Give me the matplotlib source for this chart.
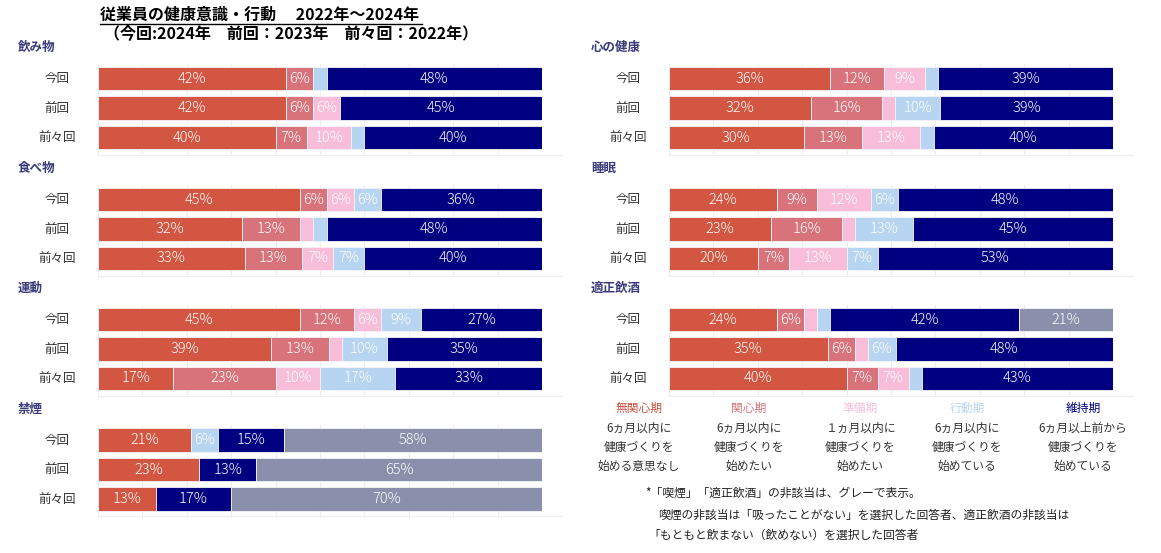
import matplotlib.pyplot as plt
from matplotlib.lines import Line2D

plt.rcParams['font.family'] = ['Noto Sans CJK JP', 'DejaVu Sans']

# データ（無関心期, 関心期, 準備期, 行動期, 維持期, 非該当）
rows = ['今回', '前回', '前々回']
stages = ['無関心期', '関心期', '準備期', '行動期', '維持期']
stage_notes = ['6ヵ月以内に\n健康づくりを\n始める意思なし',
               '6ヵ月以内に\n健康づくりを\n始めたい',
               '１ヵ月以内に\n健康づくりを\n始めたい',
               '6ヵ月以内に\n健康づくりを\n始めている',
               '6ヵ月以上前から\n健康づくりを\n始めている']

nomimono = [[42, 6, 0, 3, 48, 0], [42, 6, 6, 0, 45, 0], [40, 7, 10, 3, 40, 0]]
tabemono = [[45, 6, 6, 6, 36, 0], [32, 13, 3, 3, 48, 0], [33, 13, 7, 7, 40, 0]]
undou = [[45, 12, 6, 9, 27, 0], [39, 13, 3, 10, 35, 0], [17, 23, 10, 17, 33, 0]]
kinen = [[21, 0, 0, 6, 15, 58], [23, 0, 0, 0, 13, 65], [13, 0, 0, 0, 17, 70]]
kokoro = [[36, 12, 9, 3, 39, 0], [32, 16, 3, 10, 39, 0], [30, 13, 13, 3, 40, 0]]
suimin = [[24, 9, 12, 6, 48, 0], [23, 16, 3, 13, 45, 0], [20, 7, 13, 7, 53, 0]]
inshu = [[24, 6, 3, 3, 42, 21], [35, 6, 3, 6, 48, 0], [40, 7, 7, 3, 43, 0]]

colors = ['#D25641', '#D9737B', '#F7BDD9', '#B7D4F0', '#000080', '#8A8FAB']
label_color = '#3A3A7A'

W, H = 1161, 553
fig = plt.figure(figsize=(W / 100, H / 100), dpi=100)

# (名前, データ, 左端x, 1行目の中心y)
panels = [
    ('飲み物', nomimono, 98, 78.5),
    ('食べ物', tabemono, 98, 199.5),
    ('運動', undou, 98, 319.5),
    ('禁煙', kinen, 98, 440),
    ('心の健康', kokoro, 669, 78.5),
    ('睡眠', suimin, 669, 199.5),
    ('適正飲酒', inshu, 669, 319.5),
]
bar_w = 444
step = 29.5

for name, data, x0, yc in panels:
    top = yc - step / 2
    ax = fig.add_axes([x0 / W, 1 - (top + 3 * step + 4) / H, bar_w / W, (3 * step + 4) / H])
    ax.set_xlim(0, 100)
    ax.set_ylim(2.5 + 4 / step, -0.5)
    for i, vals in enumerate(data):
        total = sum(vals)
        left = 0
        for j, v in enumerate(vals):
            w = v / total * 100
            if w > 0:
                ax.barh(i, w, left=left, height=0.8, color=colors[j],
                        edgecolor='#F4F4FA', linewidth=0.6, zorder=3)
                if v >= 5:
                    ax.text(left + w / 2, i, f'{v}%', ha='center', va='center',
                            color='white', fontsize=10.5, fontweight='light', zorder=4)
            left += w
    ax.set_xticks(range(0, 101, 10))
    ax.grid(axis='x', color='#EDEDED', linewidth=0.8, zorder=0)
    ax.tick_params(left=False, bottom=False, labelleft=False, labelbottom=False)
    for s in ax.spines.values():
        s.set_visible(False)

    # 行ラベル
    lx = 57 if x0 < 500 else 628
    for i, r in enumerate(rows):
        fig.text(lx / W, 1 - (yc + i * step) / H, r, ha='center', va='center',
                 fontsize=9, color='#333333')
    # セクション名
    sx = 18 if x0 < 500 else 591
    fig.text(sx / W, 1 - (yc - 31) / H, name, ha='left', va='center',
             fontsize=9, fontweight='bold', color=label_color)
    # 下の薄い線
    yb = 1 - (yc + 2 * step + 17) / H
    fig.add_artist(Line2D([x0 / W, (x0 + bar_w + 20) / W], [yb, yb],
                          color='#EEEEEE', linewidth=0.8))

# タイトル
fig.text(100 / W, 1 - 15 / H, '従業員の健康意識・行動　 2022年～2024年',
         ha='left', va='center', fontsize=11.5, fontweight='bold')
fig.add_artist(Line2D([100 / W, 422 / W], [1 - 24 / H, 1 - 24 / H],
                      color='black', linewidth=1))
fig.text(104 / W, 1 - 33 / H, '（今回:2024年　前回：2023年　前々回：2022年）',
         ha='left', va='center', fontsize=11.5, fontweight='bold')

# 凡例
legend_x = [639, 749, 860, 967, 1083]
for k, (st, note) in enumerate(zip(stages, stage_notes)):
    fig.text(legend_x[k] / W, 1 - 408 / H, st, ha='center', va='center',
             fontsize=8.5, color=colors[k] if k != 0 else '#C8503C')
    for n, line in enumerate(note.split('\n')):
        fig.text(legend_x[k] / W, 1 - (428 + n * 19) / H, line, ha='center',
                 va='center', fontsize=8.5, color='#333333')

# 注記
fig.text(645 / W, 1 - 493 / H, '*「喫煙」「適正飲酒」の非該当は、グレーで表示。',
         ha='left', va='center', fontsize=8.5, color='#222222')
fig.text(658 / W, 1 - 515 / H,
         '喫煙の非該当は「吸ったことがない」を選択した回答者、適正飲酒の非該当は',
         ha='left', va='center', fontsize=8.5, color='#222222')
fig.text(648 / W, 1 - 535 / H, '「もともと飲まない（飲めない）を選択した回答者',
         ha='left', va='center', fontsize=8.5, color='#222222')

plt.savefig('out.png', dpi=100)
